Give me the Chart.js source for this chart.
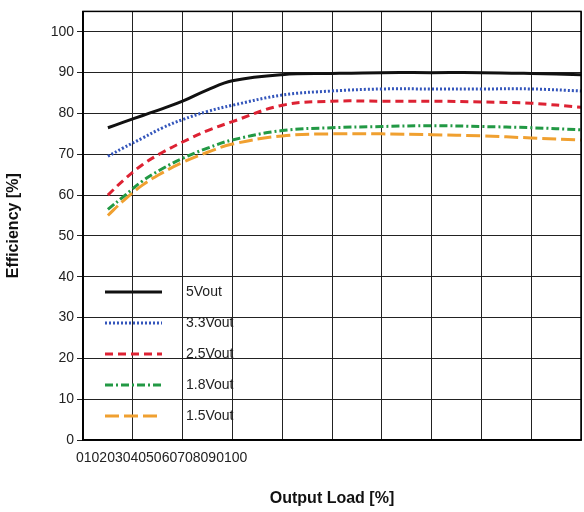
<!DOCTYPE html><html><head><script src="https://cdn.jsdelivr.net/npm/chart.js@4"></script>
<style>body{margin:0;background:#fff}#w{width:584px;height:512px}</style></head><body><div id="w"><canvas id="c"></canvas></div>
<script>
const xLabels=['0','10','20','30','40','50','60','70','80','90','100'];
const loads=[5,8,12,16,20,25,30,40,50,60,70,80,90,100];
const v50=[76.5,77.8,79.5,81.2,83,85.8,88,89.5,89.8,90,90,90,89.8,89.5];
const v33=[69.5,71.5,74,76.5,78.5,80.5,82,84.5,85.5,86,86,86,86,85.5];
const v25=[60,63.5,67.5,70.5,73,75.8,78,82,83,83,83,82.8,82.5,81.5];
const v18=[56.5,59.5,63.5,66.5,69,71.5,73.5,75.8,76.5,76.8,77,76.8,76.5,76];
const v15=[55,58.5,62.5,65.5,68,70.5,72.5,74.5,75,75,74.8,74.5,74,73.5];
const names=['5Vout','3.3Vout','2.5Vout','1.8Vout','1.5Vout'];
const cols=['#111111','#3355bb','#dd2233','#229944','#f0a030'];
const dashes=[[],[2,2],[8,5],[8,3,2,3],[14,5]];
const vals=[v50,v33,v25,v18,v15];
const legendPlugin={id:'lg',afterDraw(ch){const c=ch.ctx;c.save();
 c.font='14px "Liberation Sans", sans-serif';c.fillStyle='#222';c.textBaseline='middle';
 names.forEach((n,i)=>{const y=292+i*31;c.strokeStyle=cols[i];c.lineWidth=3;c.setLineDash(dashes[i]);c.beginPath();c.moveTo(105,y);c.lineTo(162,y);c.stroke();c.fillText(n,186,y);});
 c.setLineDash([]);c.textBaseline='top';c.textAlign='left';
 c.fillText(xLabels.join(''),76,451);c.restore();}};
new Chart(document.getElementById('c'),{type:'line',
 data:{datasets:names.map((n,i)=>({label:n,data:loads.map((x,j)=>({x,y:vals[i][j]})),borderColor:cols[i],borderDash:dashes[i],borderWidth:3,pointRadius:0,tension:0.4,fill:false}))},
 options:{responsive:true,maintainAspectRatio:false,animation:false,
  layout:{padding:{top:10,right:3,left:0}},
  plugins:{legend:{display:false},tooltip:{enabled:false}},
  scales:{
   x:{type:'linear',min:0,max:100,ticks:{stepSize:10,callback:()=>'',font:{size:14}},border:{color:'#000',width:1.5},
      grid:{color:'#222',lineWidth:1,tickLength:0},
      title:{display:true,text:'Output Load [%]',font:{size:16,weight:'bold'},color:'#111',padding:{top:26}}},
   y:{min:0,max:105,afterFit(a){a.width=83;},afterBuildTicks(a){a.ticks=a.ticks.filter(t=>t.value<=100);},ticks:{stepSize:10,color:'#222',font:{size:14}},border:{color:'#000',width:1.5},
      grid:{color:'#222',lineWidth:1,tickLength:6},
      title:{display:true,text:'Efficiency [%]',font:{size:16,weight:'bold'},color:'#111'}}
  }},
 plugins:[legendPlugin,{id:'frame',afterDraw(ch){const a=ch.chartArea,c=ch.ctx;c.save();c.strokeStyle='#000';c.lineWidth=1.5;c.strokeRect(a.left,a.top,a.right-a.left,a.bottom-a.top);c.restore();}}]
});
</script></body></html>
